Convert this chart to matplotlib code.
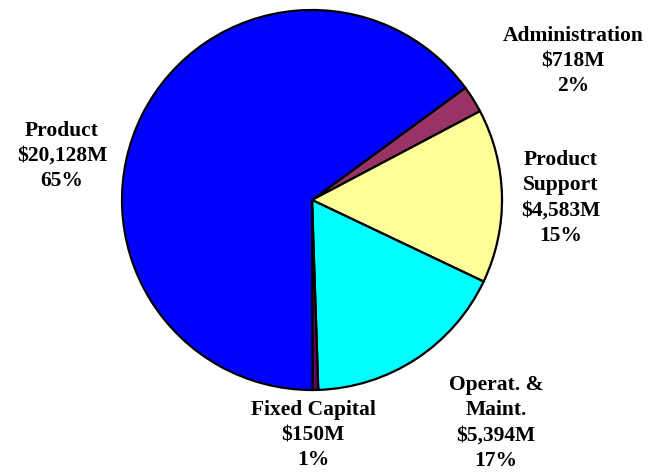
import matplotlib.pyplot as plt

# ---------------- data ----------------
names = ["Administration", "Product Support", "Operat. & Maint.", "Fixed Capital", "Product"]
values = [718, 4583, 5394, 150, 20128]
labels = ["Administration\n$718M\n2%",
          "Product\nSupport\n$4,583M\n15%",
          "Operat. &\nMaint.\n$5,394M\n17%",
          "Fixed Capital\n$150M\n1%",
          "Product\n$20,128M\n65%"]
colors = ["#993366", "#FFFF99", "#00FFFF", "#660066", "#0000FF"]

# label centres in pixel coords of the picture (x, y from top)
label_pos = [(573, 61), (561, 198), (496, 423), (313, 435), (62, 156)]

W, H = 649, 474

fig = plt.figure(figsize=(W / 100, H / 100), dpi=100)
ax = fig.add_axes([0, 0, 1, 1])

ax.pie(values, colors=colors, startangle=36.2, counterclock=False,
       center=(312, H - 200), radius=190,
       wedgeprops=dict(edgecolor="black", linewidth=1.6))

for lab, (x, y) in zip(labels, label_pos):
    ax.text(x, H - y, lab, ha="center", va="center", fontsize=15.5,
            fontweight="bold", family="Liberation Serif", linespacing=1.36)

ax.set_xlim(0, W)
ax.set_ylim(0, H)
ax.set_aspect("equal")
ax.axis("off")

plt.savefig("out.png", dpi=100)
